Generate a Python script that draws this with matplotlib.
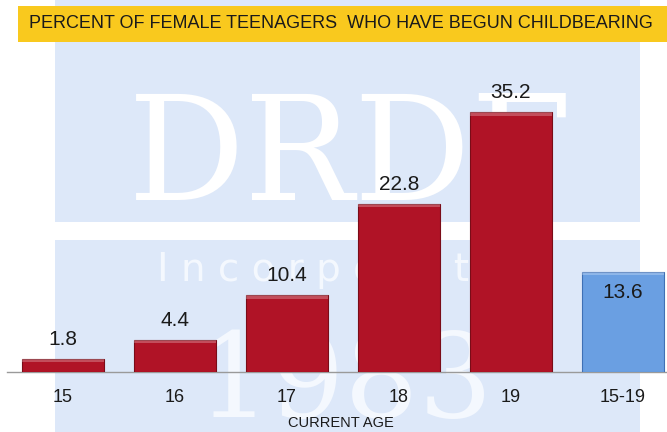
import matplotlib
matplotlib.use("Agg")
import matplotlib.pyplot as plt
from matplotlib.patches import Rectangle

ages = ["15", "16", "17", "18", "19", "15-19"]
percent = [1.8, 4.4, 10.4, 22.8, 35.2, 13.6]
bar_colors = ["#b01326", "#b01326", "#b01326", "#b01326", "#b01326", "#6a9fe2"]
edge_colors = ["#7a0c18", "#7a0c18", "#7a0c18", "#7a0c18", "#7a0c18", "#3f70b5"]

title = "PERCENT OF FEMALE TEENAGERS  WHO HAVE BEGUN CHILDBEARING"
xlab = "CURRENT AGE"

plt.rcParams['font.family'] = ['Liberation Sans Narrow', 'Liberation Sans', 'DejaVu Sans']

W, H = 667, 432
fig = plt.figure(figsize=(W / 100, H / 100), dpi=100)
fig.patch.set_facecolor("white")

# watermark panel behind everything
fig.patches.append(Rectangle((55 / W, 0), 585 / W, 1, transform=fig.transFigure,
                             facecolor="#dde8f9", edgecolor="none", zorder=0))
fig.patches.append(Rectangle((55 / W, 1 - 240 / H), 585 / W, 18 / H, transform=fig.transFigure,
                             facecolor="white", edgecolor="none", zorder=0.5))
fig.text(350 / W, 1 - 160 / H, "DRDF", family="DejaVu Serif", fontsize=105, color="white",
         ha="center", va="center", zorder=0.6)
fig.text(350 / W, 1 - 270 / H, "I n c o r p o r a t e d", family="DejaVu Sans", fontsize=28,
         color="#f4f8fe", ha="center", va="center", zorder=0.6)
fig.text(345 / W, 1 - 385 / H, "1983", family="DejaVu Serif", fontsize=84, color="#f4f8fe",
         ha="center", va="center", zorder=0.6)

# yellow title band
fig.patches.append(Rectangle((18 / W, 1 - 42 / H), 649 / W, 36 / H, transform=fig.transFigure,
                             facecolor="#f9c91e", edgecolor="none", zorder=1))
fig.text(341 / W, 1 - 24 / H, title, fontsize=13, color="#1a1a1a", ha="center", va="center", zorder=2)

# axes: baseline at y=372 px, bar centres 112 px apart
ax = fig.add_axes([7 / W, 60 / H, 660 / W, 312 / H])
ax.set_zorder(5)
ax.patch.set_visible(False)
x = list(range(len(ages)))
ax.bar(x, percent, width=0.73, color=bar_colors, edgecolor=edge_colors, linewidth=0.8, zorder=3)
# light top edge to give the bevel look
for i, v in enumerate(percent):
    ax.bar(i, 0.5, bottom=v - 0.5, width=0.73, color="white", alpha=0.25, linewidth=0, zorder=4)

for i, v in enumerate(percent):
    if ages[i] == "15-19":
        ax.annotate("%.1f" % v, (i, v), xytext=(0, -8), textcoords="offset points",
                    ha="center", va="top", fontsize=15, color="#1a1a1a", zorder=5)
    else:
        ax.annotate("%.1f" % v, (i, v), xytext=(0, 7), textcoords="offset points",
                    ha="center", va="bottom", fontsize=15, color="#1a1a1a", zorder=5)

ax.set_xlim(-56 / 112, (660 - 56) / 112)
ax.set_ylim(0, 312 / 7.386)
for s in ["top", "right", "left"]:
    ax.spines[s].set_visible(False)
ax.spines["bottom"].set_color("#9a9a9a")
ax.spines["bottom"].set_linewidth(1)
ax.set_yticks([])
ax.set_xticks(x)
ax.set_xticklabels(ages, fontsize=13, color="#1a1a1a")
ax.tick_params(axis="x", length=0, pad=12)

fig.text(341 / W, 1 - 423 / H, xlab, fontsize=10.5, color="#1a1a1a", ha="center", va="center",
         zorder=6)

fig.savefig("out.png", dpi=100)
